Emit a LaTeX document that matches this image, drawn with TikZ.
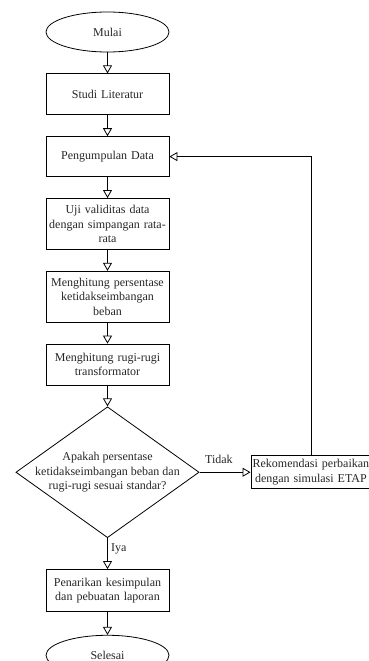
\documentclass[tikz,border=0pt]{standalone}
\usepackage{fontspec}
\setmainfont{Liberation Serif}
\usetikzlibrary{arrows.meta,shapes.geometric,positioning,calc}

\begin{document}
\begin{tikzpicture}[line width=0.8pt, node distance=21pt,
  every node/.style={font=\fontsize{12}{14.5}\selectfont, text=black!85},
  terminal/.style={ellipse, draw, inner sep=0pt, minimum width=123pt, minimum height=40pt},
  proses/.style={rectangle, draw, text width=119pt, inner xsep=2pt, align=center, minimum height=41pt},
  keputusan/.style={diamond, draw, aspect=1.4, inner sep=-3.6pt, align=center},
  panah/.style={-{Triangle[open,length=8pt,width=9pt]}}]
\useasboundingbox (0,0) rectangle (369pt,-661pt);
\node[terminal] (mulai) at (107.5pt,-32pt) {Mulai};
\node[proses, below=of mulai] (studi) {Studi Literatur};
\node[proses, minimum height=40pt, below=of studi] (data) {Pengumpulan Data};
\node[proses, minimum height=51pt, below=of data] (uji) {Uji validitas data\\ dengan simpangan rata-\\ rata};
\node[proses, minimum height=51pt, below=of uji] (persen) {Menghitung persentase\\ ketidakseimbangan\\ beban};
\node[proses, below=of persen] (rugi) {Menghitung rugi-rugi\\ transformator};
\node[keputusan, below=of rugi] (cek) {Apakah persentase\\ ketidakseimbangan beban dan\\ rugi-rugi sesuai standar?};
\node[proses, text width=118pt, inner xsep=1pt, minimum height=33pt, right=51pt of cek] (rekom) {Rekomendasi perbaikan\\ dengan simulasi ETAP};
\node[proses, minimum height=42pt, below=31pt of cek] (laporan) {Penarikan kesimpulan\\ dan pebuatan laporan};
\node[terminal, below=23pt of laporan] (selesai) {Selesai};

\draw[panah] (mulai) -- (studi);
\draw[panah] (studi) -- (data);
\draw[panah] (data) -- (uji);
\draw[panah] (uji) -- (persen);
\draw[panah] (persen) -- (rugi);
\draw[panah] (rugi) -- (cek);
\draw[panah] (cek) -- node[right, pos=0.35] (iya) {Iya} (laporan);
\draw[panah] (cek.east) -- node[above=5pt, pos=0.38] (tidak) {Tidak} (rekom.west);
\draw[panah] (rekom.north) |- (data.east);
\draw[panah] (laporan) -- (selesai);
\end{tikzpicture}
\end{document}
